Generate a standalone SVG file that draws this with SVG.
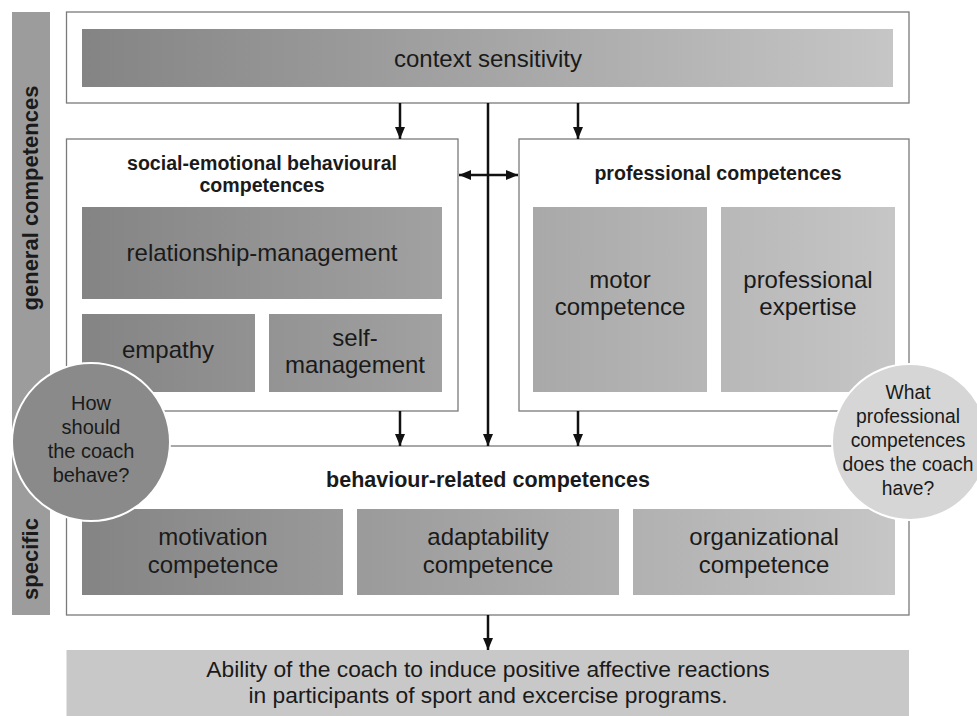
<svg xmlns="http://www.w3.org/2000/svg" width="977" height="716" viewBox="0 0 977 716">
<defs>
<linearGradient id="g" gradientUnits="userSpaceOnUse" x1="82" y1="0" x2="895" y2="0">
<stop offset="0" stop-color="#848484"/>
<stop offset="1" stop-color="#c6c6c6"/>
</linearGradient>
<marker id="ah" viewBox="0 0 12 10" refX="12" refY="5" markerWidth="12" markerHeight="10" markerUnits="userSpaceOnUse" orient="auto-start-reverse">
<path d="M0,0 L12,5 L0,10 Z" fill="#111"/>
</marker>
</defs>
<style>
text{font-family:"Liberation Sans",Arial,sans-serif;fill:#1a1a1a;text-anchor:middle}
.t{font-size:24px}
.o{font-size:22.8px}
.b{font-size:19.6px;font-weight:bold}
.bb{font-size:21.5px;font-weight:bold}
.s{font-size:22px;font-weight:bold}
.c{font-size:20px}
.c2{font-size:19.3px}
.frame{fill:#fff;stroke:#7a7a7a;stroke-width:1.3}
.cell{fill:url(#g)}
.con{stroke:#111;stroke-width:2.5;fill:none}
</style>
<rect width="977" height="716" fill="#fff"/>
<g id="sidebar">
<rect x="12" y="12" width="38" height="603" fill="#9c9c9c"/>
<text class="s" transform="translate(38,198) rotate(-90)">general competences</text>
<text class="s" transform="translate(38,559) rotate(-90)">specific</text>
</g>
<g id="context">
<rect class="frame" x="66.5" y="12" width="842.5" height="91"/>
<rect class="cell" x="82" y="29" width="811" height="58"/>
<text class="t" x="488" y="67">context sensitivity</text>
</g>
<g id="social">
<rect class="frame" x="66.5" y="139" width="391.5" height="272"/>
<text class="b" x="262" y="170">social-emotional behavioural</text>
<text class="b" x="262" y="192">competences</text>
<rect class="cell" x="82" y="207" width="360" height="92"/>
<text class="t" x="262" y="261">relationship-management</text>
<rect class="cell" x="82" y="314" width="173" height="78"/>
<text class="t" x="168" y="358">empathy</text>
<rect class="cell" x="269" y="314" width="173" height="78"/>
<text class="t" x="355" y="346">self-</text>
<text class="t" x="355" y="373">management</text>
</g>
<g id="professional">
<rect class="frame" x="519" y="139" width="390" height="272"/>
<text class="b" x="718" y="180">professional competences</text>
<rect class="cell" x="533" y="207" width="174" height="185"/>
<text class="t" x="620" y="288">motor</text>
<text class="t" x="620" y="315">competence</text>
<rect class="cell" x="721" y="207" width="174" height="185"/>
<text class="t" x="808" y="288">professional</text>
<text class="t" x="808" y="315">expertise</text>
</g>
<g id="behaviour">
<rect class="frame" x="66.5" y="446" width="842.5" height="169"/>
<text class="bb" x="488" y="487">behaviour-related competences</text>
<rect class="cell" x="82" y="509" width="261" height="86"/>
<text class="t" x="213" y="545">motivation</text>
<text class="t" x="213" y="573">competence</text>
<rect class="cell" x="357" y="509" width="262" height="86"/>
<text class="t" x="488" y="545">adaptability</text>
<text class="t" x="488" y="573">competence</text>
<rect class="cell" x="633" y="509" width="262" height="86"/>
<text class="t" x="764" y="545">organizational</text>
<text class="t" x="764" y="573">competence</text>
</g>
<g id="outcome">
<rect x="66.5" y="650" width="842.5" height="66" fill="#c8c8c8"/>
<text class="o" x="488" y="677">Ability of the coach to induce positive affective reactions</text>
<text class="o" x="488" y="703">in participants of sport and excercise programs.</text>
</g>
<g id="connectors">
<line class="con" x1="488" y1="103" x2="488" y2="446" marker-end="url(#ah)"/>
<line class="con" x1="400" y1="103" x2="400" y2="139" marker-end="url(#ah)"/>
<line class="con" x1="578" y1="103" x2="578" y2="139" marker-end="url(#ah)"/>
<line class="con" x1="459" y1="175" x2="518" y2="175" marker-start="url(#ah)" marker-end="url(#ah)"/>
<line class="con" x1="400" y1="411" x2="400" y2="446" marker-end="url(#ah)"/>
<line class="con" x1="578" y1="411" x2="578" y2="446" marker-end="url(#ah)"/>
<line class="con" x1="488" y1="615" x2="488" y2="650" marker-end="url(#ah)"/>
</g>
<g id="q-behave">
<circle cx="91" cy="442" r="79" fill="#8a8a8a" stroke="#fff" stroke-width="2"/>
<text class="c" x="91" y="410">How</text>
<text class="c" x="91" y="434">should</text>
<text class="c" x="91" y="458">the coach</text>
<text class="c" x="91" y="482">behave?</text>
</g>
<g id="q-professional">
<circle cx="910" cy="442" r="78" fill="#d6d6d6" stroke="#fff" stroke-width="2"/>
<text class="c2" x="908" y="399">What</text>
<text class="c2" x="908" y="423">professional</text>
<text class="c2" x="908" y="447">competences</text>
<text class="c2" x="908" y="471">does the coach</text>
<text class="c2" x="908" y="495">have?</text>
</g>
</svg>
